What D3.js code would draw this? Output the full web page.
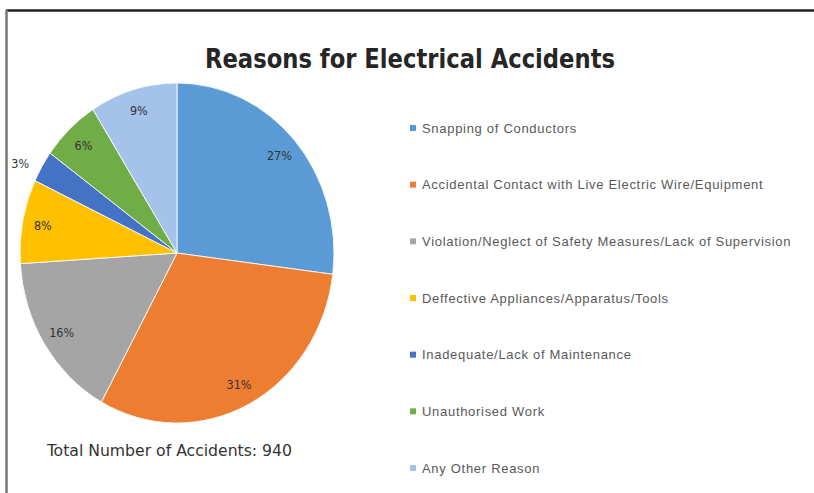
<!DOCTYPE html>
<html>
<head>
<meta charset="utf-8">
<script src="https://cdn.jsdelivr.net/npm/d3@7"></script>
<style>
  body { margin: 0; background: #fff; }
  svg text { font-family: "DejaVu Sans Condensed", "Liberation Sans", sans-serif; }
  svg text.legend { font-family: "Liberation Sans", Arial, sans-serif; letter-spacing: 0.7px; }
</style>
</head>
<body>
<div id="chart"></div>
<script>
// chart data
const reasons = [
  "Snapping of Conductors",
  "Accidental Contact with Live Electric Wire/Equipment",
  "Violation/Neglect of Safety Measures/Lack of Supervision",
  "Deffective Appliances/Apparatus/Tools",
  "Inadequate/Lack of Maintenance",
  "Unauthorised Work",
  "Any Other Reason"
];
const shares = [27, 31, 16, 8, 3, 6, 9];
const colours = ["#5b9bd5", "#ed7d31", "#a5a5a5", "#ffc000", "#4472c4", "#70ad47", "#a4c2ea"];
const title = "Reasons for Electrical Accidents";
const totalNote = "Total Number of Accidents: 940";

const W = 814, H = 493;
const svg = d3.select("#chart").append("svg")
    .attr("width", W).attr("height", H);

// frame (top and left edges of the original screenshot)
svg.append("rect").attr("x", 0).attr("y", 0).attr("width", W).attr("height", H).attr("fill", "#fff");
svg.append("line").attr("x1", 6).attr("x2", W).attr("y1", 10.5).attr("y2", 10.5)
    .attr("stroke", "#222").attr("stroke-width", 2.5);
svg.append("line").attr("x1", 6.5).attr("x2", 6.5).attr("y1", 10).attr("y2", H)
    .attr("stroke", "#777").attr("stroke-width", 2.5);

svg.append("text")
    .attr("x", 410).attr("y", 68)
    .attr("text-anchor", "middle")
    .attr("font-size", 27).attr("font-weight", "bold").attr("fill", "#262626")
    .attr("textLength", 410).attr("lengthAdjust", "spacingAndGlyphs")
    .text(title);

// pie (slightly taller than wide, as in the source picture)
const cx = 177, cy = 253, rx = 157, ry = 170;
const stretch = ry / rx;

const pie = d3.pie().sort(null).value(d => d);
const arcs = pie(shares);
const arcGen = d3.arc().innerRadius(0).outerRadius(rx);

const pg = svg.append("g")
    .attr("transform", `translate(${cx},${cy}) scale(1,${stretch})`);
pg.selectAll("path").data(arcs).join("path")
    .attr("d", arcGen)
    .attr("fill", (d, i) => colours[i])
    .attr("stroke", "#fff").attr("stroke-width", 0.8);

// slice labels
const labelArc = d3.arc().innerRadius(rx * 0.87).outerRadius(rx * 0.87);
const outsideArc = d3.arc().innerRadius(rx * 1.13).outerRadius(rx * 1.13);
svg.append("g").selectAll("text").data(arcs).join("text")
    .attr("transform", d => {
      const c = (d.data < 5 ? outsideArc : labelArc).centroid(d);
      return `translate(${cx + c[0] - (d.data < 5 ? 4 : 0)},${cy + c[1] * stretch + (d.data < 5 ? 8 : 0)})`;
    })
    .attr("text-anchor", "middle").attr("dy", "0.35em")
    .attr("font-size", 12.5).attr("fill", "#333")
    .text(d => d.data + "%");

svg.append("text")
    .attr("x", 47).attr("y", 456)
    .attr("font-size", 16).attr("fill", "#333")
    .attr("textLength", 245).attr("lengthAdjust", "spacingAndGlyphs")
    .text(totalNote);

// legend
const ly = d3.scalePoint().domain(reasons).range([128, 468]);
const lg = svg.append("g").selectAll("g").data(reasons).join("g")
    .attr("transform", d => `translate(410,${ly(d)})`);
lg.append("rect")
    .attr("x", 0).attr("y", -3).attr("width", 6).attr("height", 6)
    .attr("fill", (d, i) => colours[i]);
lg.append("text")
    .attr("class", "legend")
    .attr("x", 12).attr("dy", "0.35em")
    .attr("font-size", 13).attr("fill", "#595959")
    .text(d => d);
</script>
</body>
</html>
